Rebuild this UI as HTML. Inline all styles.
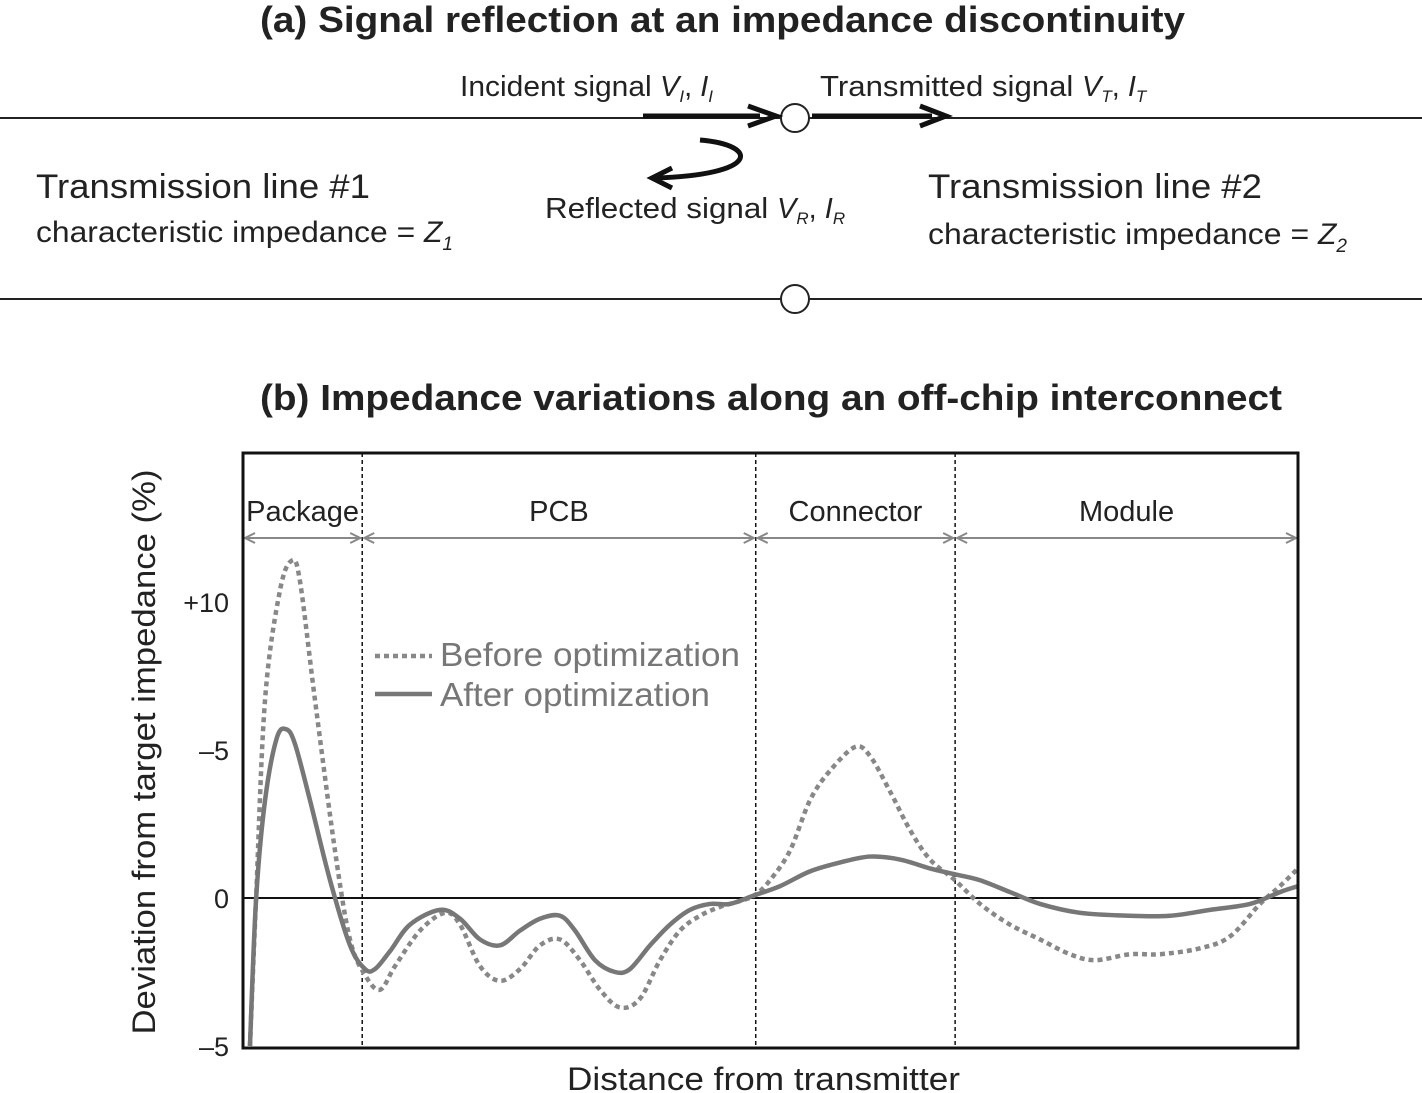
<!DOCTYPE html>
<html><head><meta charset="utf-8"><style>
body{margin:0;background:#fff;}
svg{display:block;font-family:"Liberation Sans",Arial,sans-serif;}
</style></head><body>
<svg width="1422" height="1093" viewBox="0 0 1422 1093">
<defs>
<marker id="ga" markerWidth="14" markerHeight="14" refX="12" refY="7" orient="auto" markerUnits="userSpaceOnUse"><path d="M2,2 L12,7 L2,12" fill="none" stroke="#888" stroke-width="2"/></marker>
</defs>
<text x="260" y="32" font-size="36" font-weight="bold" fill="#222" textLength="925" lengthAdjust="spacingAndGlyphs">(a) Signal reflection at an impedance discontinuity</text>
<line x1="0" y1="118" x2="1422" y2="118" stroke="#222" stroke-width="2"/>
<line x1="0" y1="299" x2="1422" y2="299" stroke="#222" stroke-width="2"/>
<circle cx="795" cy="118" r="14" fill="#fff" stroke="#222" stroke-width="2"/>
<circle cx="795" cy="299" r="14" fill="#fff" stroke="#222" stroke-width="2"/>
<g><line x1="643" y1="116" x2="760" y2="116" stroke="#111" stroke-width="5"/><path d="M748,106 L776,116 L748,126" fill="none" stroke="#111" stroke-width="5"/></g>
<g><line x1="812" y1="116" x2="932" y2="116" stroke="#111" stroke-width="5"/><path d="M920,106 L946,116 L920,126" fill="none" stroke="#111" stroke-width="5"/></g>
<g><path d="M700,140 C760,145 760,175 655,178" fill="none" stroke="#111" stroke-width="5"/><path d="M672,168 L652,178 L672,188" fill="none" stroke="#111" stroke-width="5"/></g>
<text x="460" y="96" font-size="29" fill="#222"><tspan textLength="200" lengthAdjust="spacingAndGlyphs">Incident signal </tspan><tspan font-style="italic">V</tspan><tspan font-size="17" dy="6" font-style="italic">I</tspan><tspan dy="-6">, </tspan><tspan font-style="italic">I</tspan><tspan font-size="17" dy="6" font-style="italic">I</tspan></text>
<text x="820" y="96" font-size="29" fill="#222"><tspan textLength="262" lengthAdjust="spacingAndGlyphs">Transmitted signal </tspan><tspan font-style="italic">V</tspan><tspan font-size="17" dy="6" font-style="italic">T</tspan><tspan dy="-6">, </tspan><tspan font-style="italic">I</tspan><tspan font-size="17" dy="6" font-style="italic">T</tspan></text>
<text x="545" y="218" font-size="29" fill="#222"><tspan textLength="232" lengthAdjust="spacingAndGlyphs">Reflected signal </tspan><tspan font-style="italic">V</tspan><tspan font-size="17" dy="6" font-style="italic">R</tspan><tspan dy="-6">, </tspan><tspan font-style="italic">I</tspan><tspan font-size="17" dy="6" font-style="italic">R</tspan></text>
<text x="36" y="198" font-size="34" fill="#222" textLength="334" lengthAdjust="spacingAndGlyphs">Transmission  line #1</text>
<text x="36" y="242" font-size="30" fill="#222"><tspan textLength="388" lengthAdjust="spacingAndGlyphs">characteristic impedance = </tspan><tspan font-style="italic">Z</tspan><tspan font-size="19" dy="8" font-style="italic">1</tspan></text>
<text x="928" y="198" font-size="34" fill="#222" textLength="334" lengthAdjust="spacingAndGlyphs">Transmission  line #2</text>
<text x="928" y="244" font-size="30" fill="#222"><tspan textLength="390" lengthAdjust="spacingAndGlyphs">characteristic impedance = </tspan><tspan font-style="italic">Z</tspan><tspan font-size="19" dy="8" font-style="italic">2</tspan></text>

<text x="260" y="410" font-size="36" font-weight="bold" fill="#222" textLength="1022" lengthAdjust="spacingAndGlyphs">(b) Impedance variations along an off-chip interconnect</text>
<g id="chart"></g>
</svg>
<script>
const beforeX=[0.66,1.23,2.09,3.51,4.64,5.4,6.82,8.72,10.14,11.56,12.99,14.41,16.78,19.15,20.57,22.46,24.36,26.26,28.15,30.05,31.94,33.84,35.73,37.63,39.53,41.42,43.32,45.21,47.11,48.53,49.95,51.85,53.74,55.64,58.01,59.43,61.33,63.22,65.12,67.49,69.86,72.7,75.55,78.39,80.76,84.08,86.92,90.71,93.55,96.4,98.29,100];
const beforeY=[-5.0,-0.1,6.7,10.4,11.4,10.7,6.7,1.6,-1.4,-2.6,-3.1,-2.3,-1.1,-0.5,-0.9,-2.3,-2.8,-2.4,-1.6,-1.4,-2.1,-3.1,-3.7,-3.4,-2.1,-1.1,-0.6,-0.3,-0.1,0.1,0.6,1.6,3.3,4.3,5.1,4.8,3.6,2.3,1.3,0.6,-0.2,-0.9,-1.4,-1.9,-2.1,-1.9,-1.9,-1.7,-1.3,-0.2,0.4,1.0];
const afterX=[0.66,1.23,2.09,3.2,4.1,4.93,6.35,8.25,10.14,11.56,12.51,13.93,15.83,18.67,20.57,22.46,24.36,26.26,28.15,30.05,31.47,33.36,35.26,36.68,38.58,40.47,42.37,44.27,46.16,48.53,50.9,53.74,56.59,59.43,62.27,65.12,67.49,69.86,72.7,75.55,79.34,84.08,87.87,91.66,95.45,98.29,100];
const afterY=[-5.0,-0.1,3.3,5.4,5.7,5.2,3.3,0.6,-1.6,-2.4,-2.4,-1.8,-0.9,-0.4,-0.7,-1.4,-1.6,-1.1,-0.7,-0.6,-1.1,-2.1,-2.5,-2.4,-1.6,-0.9,-0.4,-0.2,-0.2,0.1,0.4,0.9,1.2,1.4,1.3,1.0,0.8,0.6,0.2,-0.2,-0.5,-0.6,-0.6,-0.4,-0.2,0.2,0.4];
const tickValues=[10,5,0,-5];
const tickLabels=["+10","\u20135","0","\u20135"];
const sectionBounds=[0,11.3,48.6,67.5,100];
const sectionNames=["Package","PCB","Connector","Module"];

const L=243,R=1298,T=453,B=1048;
const xs=v=>L+(v/100)*(R-L);
const ys=v=>898-v*29.6;
const NS="http://www.w3.org/2000/svg";
const g=document.getElementById('chart');
function mk(t,a,p){const e=document.createElementNS(NS,t);for(const k in a)e.setAttribute(k,a[k]);(p||g).appendChild(e);return e;}
const cp=mk('clipPath',{id:'clip'});mk('rect',{x:L,y:T,width:R-L,height:B-T},cp);
function path(X,Y){const p=X.map((x,i)=>[xs(x),ys(Y[i])]);let d=`M${p[0][0]},${p[0][1]}`;
for(let i=0;i<p.length-1;i++){const p0=p[Math.max(0,i-1)],p1=p[i],p2=p[i+1],p3=p[Math.min(p.length-1,i+2)];
d+=` C${p1[0]+(p2[0]-p0[0])/6},${p1[1]+(p2[1]-p0[1])/6} ${p2[0]-(p3[0]-p1[0])/6},${p2[1]-(p3[1]-p1[1])/6} ${p2[0]},${p2[1]}`;}return d;}
const zl=mk('line',{x1:L,x2:R,y1:ys(0),y2:ys(0),stroke:'#111','stroke-width':2});


sectionBounds.slice(1,-1).forEach(b=>{const l=mk('line',{x1:xs(b),x2:xs(b),y1:T,y2:B,stroke:'#111','stroke-width':1.5,'stroke-dasharray':'4,3'});

});
const defs=document.querySelector('defs');
const ms=mk('marker',{id:'gs',markerWidth:14,markerHeight:14,refX:2,refY:7,orient:'auto',markerUnits:'userSpaceOnUse'},defs);
mk('path',{d:'M12,2 L2,7 L12,12',fill:'none',stroke:'#888','stroke-width':2},ms);
sectionNames.forEach((n,i)=>{const a=xs(sectionBounds[i]),b=xs(sectionBounds[i+1]);
const l=mk('line',{x1:a+2,x2:b-2,y1:538,y2:538,stroke:'#888','stroke-width':2,'marker-end':'url(#ga)','marker-start':'url(#gs)'});


const t=mk('text',{x:(a+b)/2,y:521,'text-anchor':'middle','font-size':29,fill:'#222'});t.textContent=n;

});
const pb=mk('path',{d:path(beforeX,beforeY),fill:'none',stroke:'#888','stroke-width':4.5,'stroke-dasharray':'5,4','clip-path':'url(#clip)'});


const pa=mk('path',{d:path(afterX,afterY),fill:'none',stroke:'#777','stroke-width':4.5,'clip-path':'url(#clip)'});


const fr=mk('rect',{x:L,y:T,width:R-L,height:B-T,fill:'none',stroke:'#111','stroke-width':3});


tickValues.forEach((v,i)=>{const t=mk('text',{x:229,y:ys(v)+10,'text-anchor':'end','font-size':27,fill:'#222'});t.textContent=tickLabels[i];

});
const yt=mk('text',{x:0,y:0,transform:'translate(155,752) rotate(-90)','text-anchor':'middle','font-size':32,fill:'#222',textLength:565,lengthAdjust:'spacingAndGlyphs'});yt.textContent='Deviation from target impedance (%)';


const xt=mk('text',{x:567,y:1090,'font-size':32,fill:'#222',textLength:393,lengthAdjust:'spacingAndGlyphs'});xt.textContent='Distance from transmitter';


const lg=mk('g',{});


mk('line',{x1:375,x2:432,y1:656,y2:656,stroke:'#888','stroke-width':4.5,'stroke-dasharray':'5,4'},lg);
mk('line',{x1:375,x2:432,y1:694,y2:694,stroke:'#777','stroke-width':4.5},lg);
const l1=mk('text',{x:440,y:666,'font-size':33,fill:'#777',textLength:300,lengthAdjust:'spacingAndGlyphs'},lg);l1.textContent='Before optimization';


const l2=mk('text',{x:440,y:706,'font-size':33,fill:'#777',textLength:270,lengthAdjust:'spacingAndGlyphs'},lg);l2.textContent='After optimization';


</script>
</body></html>
